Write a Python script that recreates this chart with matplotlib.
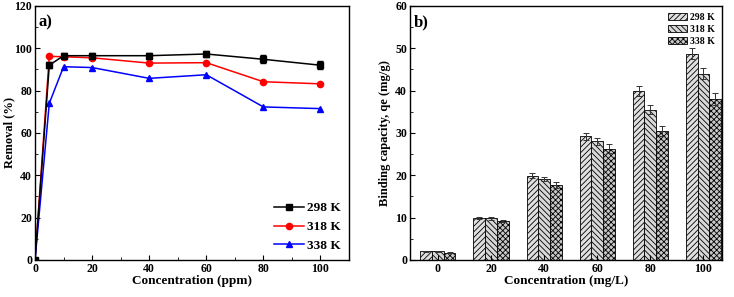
import matplotlib.pyplot as plt
from matplotlib.ticker import MultipleLocator
import numpy as np

plt.rcParams['font.family'] = ['Liberation Serif', 'DejaVu Serif']
plt.rcParams['font.weight'] = 'bold'
plt.rcParams['axes.labelweight'] = 'bold'
plt.rcParams['hatch.linewidth'] = 0.6

# panel a) removal vs concentration
conc_a = [0, 5, 10, 20, 40, 60, 80, 100]
rem_298 = [0, 92.0, 96.5, 96.5, 96.5, 97.3, 94.8, 92.0]
rem_318 = [0, 96.2, 96.0, 95.5, 93.0, 93.2, 84.2, 83.2]
rem_338 = [0, 74.0, 91.3, 90.9, 85.8, 87.5, 72.3, 71.5]
err_298 = [0, 1.5, 1.5, 1.5, 1.5, 1.3, 1.8, 1.8]

# panel b) binding capacity
conc_b = [0, 20, 40, 60, 80, 100]
qe_298 = [2.1, 9.9, 19.9, 29.2, 40.0, 48.7]
qe_318 = [2.1, 9.8, 19.1, 28.0, 35.5, 44.0]
qe_338 = [1.7, 9.2, 17.7, 26.3, 30.5, 38.0]
qe_err_298 = [0.1, 0.2, 0.6, 0.8, 1.2, 1.3]
qe_err_318 = [0.1, 0.3, 0.5, 0.8, 1.0, 1.3]
qe_err_338 = [0.1, 0.3, 0.7, 1.0, 1.2, 1.4]
temps = ['298 K', '318 K', '338 K']

fig = plt.figure(figsize=(7.34, 2.97), dpi=100)
ax1 = fig.add_axes([0.0477, 0.1246, 0.4278, 0.8554])
ax2 = fig.add_axes([0.5586, 0.1246, 0.4251, 0.8554])

# ---- a)
h1 = ax1.errorbar(conc_a, rem_298, yerr=err_298, color='black', marker='s', ms=4.5,
                  lw=1.1, capsize=2, elinewidth=0.8, label=temps[0])
h2, = ax1.plot(conc_a, rem_318, color='red', marker='o', ms=4.5, lw=1.1, label=temps[1])
h3, = ax1.plot(conc_a, rem_338, color='blue', marker='^', ms=5, lw=1.1, label=temps[2])
ax1.set_xlim(0, 110)
ax1.set_ylim(0, 120)
ax1.xaxis.set_major_locator(MultipleLocator(20))
ax1.xaxis.set_minor_locator(MultipleLocator(10))
ax1.yaxis.set_major_locator(MultipleLocator(20))
ax1.yaxis.set_minor_locator(MultipleLocator(10))
ax1.tick_params(which='both', direction='in', labelsize=8.5, pad=2)
ax1.tick_params(which='major', length=3.5)
ax1.tick_params(which='minor', length=2)
ax1.set_xlabel('Concentration (ppm)', fontsize=9.5, labelpad=0)
ax1.set_ylabel('Removal (%)', fontsize=9)
ax1.yaxis.set_label_coords(-0.063, 0.5)
ax1.text(0.012, 0.965, 'a)', transform=ax1.transAxes, fontsize=12,
         fontweight='bold', va='top')
ax1.legend([h1[0], h2, h3], temps, loc='lower right', frameon=False, fontsize=9.5,
           handlelength=2.2, borderaxespad=0.2, labelspacing=0.5, handletextpad=0.3)

# ---- b)
w = 4.4
fills = ['#e0e0e0', '#d8d8d8', '#c8c8c8']
hatches = ['//////', '\\\\\\\\\\\\', 'xxxxxx']
series = [qe_298, qe_318, qe_338]
errs = [qe_err_298, qe_err_318, qe_err_338]
x = np.array(conc_b, dtype=float)
for i in range(3):
    ax2.bar(x + (i - 1) * w, series[i], width=w, color=fills[i], edgecolor='black',
            linewidth=0.6, hatch=hatches[i], label=temps[i],
            yerr=errs[i], capsize=2,
            error_kw=dict(elinewidth=0.7, capthick=0.7, ecolor='#333333'))
ax2.set_xlim(-10.5, 107)
ax2.set_ylim(0, 60)
ax2.set_xticks(conc_b)
ax2.yaxis.set_major_locator(MultipleLocator(10))
ax2.yaxis.set_minor_locator(MultipleLocator(5))
ax2.tick_params(which='both', direction='in', labelsize=8.5, pad=2)
ax2.tick_params(which='major', length=3.5)
ax2.tick_params(which='minor', length=2)
ax2.set_xlabel('Concentration (mg/L)', fontsize=9.5, labelpad=0)
ax2.set_ylabel('Binding capacity, qe (mg/g)', fontsize=9)
ax2.yaxis.set_label_coords(-0.06, 0.5)
ax2.text(0.012, 0.965, 'b)', transform=ax2.transAxes, fontsize=12,
         fontweight='bold', va='top')
ax2.legend(loc='upper right', frameon=False, fontsize=7, handlelength=2.0,
           handleheight=0.8, borderaxespad=0.3, labelspacing=0.3, handletextpad=0.3)

for ax in (ax1, ax2):
    for s in ax.spines.values():
        s.set_linewidth(1.0)

fig.savefig('out.png', dpi=100)
